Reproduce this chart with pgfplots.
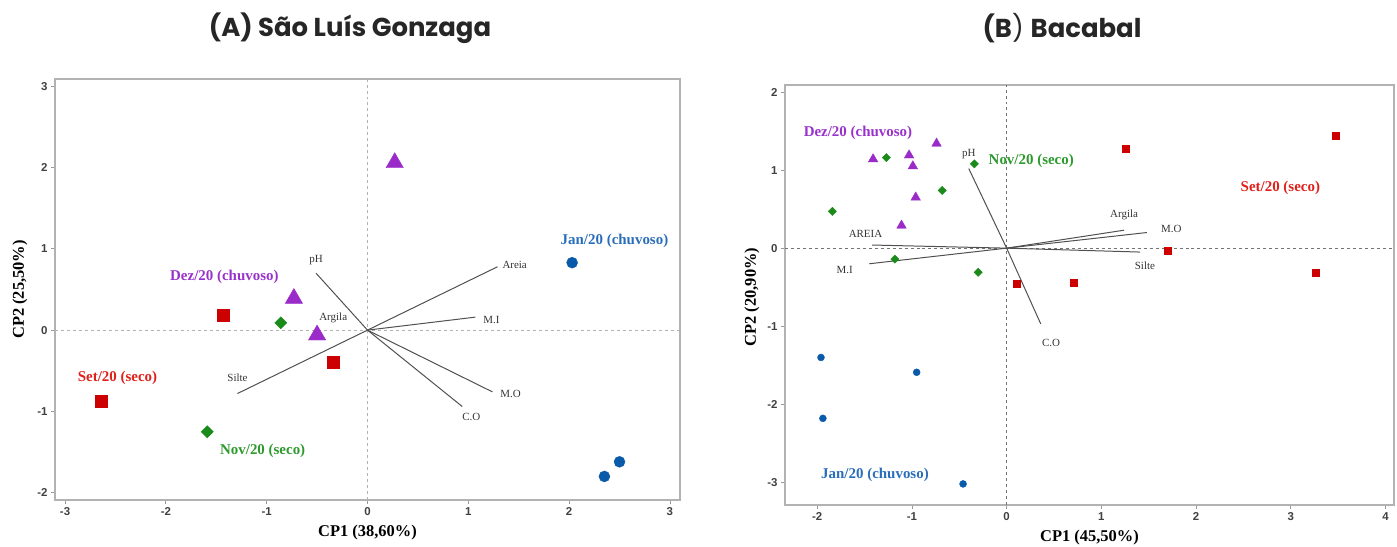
\documentclass[border=0pt]{standalone}
\usepackage{fontspec}
\setmainfont{Liberation Serif}
\setsansfont{Liberation Sans}
\newfontfamily\titlefont{Poppins}
\usepackage{pgfplots}
\pgfplotsset{compat=1.18}
\definecolor{cred}{HTML}{CC0000}
\definecolor{cpur}{HTML}{9A2BC8}
\definecolor{cgrn}{HTML}{1A8A1A}
\definecolor{cblu}{HTML}{0A5AAA}
\definecolor{tred}{HTML}{E0201B}
\definecolor{tpur}{HTML}{9932CC}
\definecolor{tgrn}{HTML}{2E9A2E}
\definecolor{tblu}{HTML}{2A6EBB}
\definecolor{vec}{HTML}{505050}
\pgfplotsset{
  pcabase/.style={
    scale only axis, clip=false,
    axis line style={draw=black!30, line width=1.2pt},
    xtick pos=left, ytick pos=left, tick align=outside,
    major tick length=4bp, tick style={black!40, line width=0.8pt},
    ticklabel style={font=\fontsize{11.5}{13}\selectfont\sffamily\bfseries, text=black!75},
    /pgf/number format/assume math mode=true,
    /pgf/number format/use comma,
  },
}
\tikzset{
  vlab/.style={font=\fontsize{11}{13}\selectfont, text=black!80},
  glab/.style={font=\fontsize{15}{17}\selectfont\bfseries},
  alab/.style={font=\fontsize{16.5}{19}\selectfont\bfseries},
}
\begin{document}
\begin{tikzpicture}
\path[use as bounding box] (0,0) rectangle (1397bp,547bp);
\node[font=\fontsize{26}{30}\selectfont\titlefont\bfseries, text=black!85] at (350bp,519bp) {(A) São Luís Gonzaga};
\node[font=\fontsize{26}{30}\selectfont\titlefont, text=black!85] at (1062bp,519bp) {\textbf{(B}) \textbf{Bacabal}};

% Panel A
\begin{axis}[pcabase, at={(55bp,47bp)}, anchor=south west, width=625bp, height=421bp,
  xmin=-3.1, xmax=3.1, ymin=-2.09, ymax=3.09,
  xtick={-3,...,3}, ytick={-2,...,3}]
\draw[black!30, dashed, line width=0.8pt] (axis cs:0,-2.09) -- (axis cs:0,3.09);
\draw[black!30, dashed, line width=0.8pt] (axis cs:-3.1,0) -- (axis cs:3.1,0);
\addplot[vec, line width=1pt] coordinates {(0,0) (-0.51,0.70)};
\addplot[vec, line width=1pt] coordinates {(0,0) (1.29,0.78)};
\addplot[vec, line width=1pt] coordinates {(0,0) (1.07,0.16)};
\addplot[vec, line width=1pt] coordinates {(0,0) (1.24,-0.76)};
\addplot[vec, line width=1pt] coordinates {(0,0) (0.94,-0.94)};
\addplot[vec, line width=1pt] coordinates {(0,0) (-1.29,-0.78)};
\addplot[only marks, mark=square*, mark size=6bp, color=cred] coordinates {(-1.43,0.18) (-0.34,-0.39) (-2.64,-0.88)};
\addplot[only marks, mark=triangle*, mark size=10bp, color=cpur] coordinates {(0.27,2.06) (-0.73,0.39) (-0.50,-0.06)};
\addplot[only marks, mark=square*, mark options={rotate=45}, mark size=4.3bp, color=cgrn] coordinates {(-0.86,0.09) (-1.59,-1.25)};
\addplot[only marks, mark=*, mark size=5.5bp, color=cblu] coordinates {(2.03,0.83) (2.50,-1.62) (2.35,-1.80)};
\node[vlab] at (axis cs:-0.51,0.86) {pH};
\node[vlab] at (axis cs:1.46,0.80) {Areia};
\node[vlab] at (axis cs:1.23,0.13) {M.I};
\node[vlab] at (axis cs:1.42,-0.78) {M.O};
\node[vlab] at (axis cs:1.03,-1.07) {C.O};
\node[vlab] at (axis cs:-1.29,-0.59) {Silte};
\node[vlab] at (axis cs:-0.34,0.15) {Argila};
\node[glab, text=tblu] at (axis cs:2.45,1.10) {Jan/20 (chuvoso)};
\node[glab, text=tpur] at (axis cs:-1.42,0.66) {Dez/20 (chuvoso)};
\node[glab, text=tred] at (axis cs:-2.48,-0.59) {Set/20 (seco)};
\node[glab, text=tgrn] at (axis cs:-1.04,-1.49) {Nov/20 (seco)};
\node[alab, yshift=-33bp] at (rel axis cs:0.5,0) {CP1 (38,60\%)};
\node[alab, xshift=-35bp, rotate=90] at (rel axis cs:0,0.5) {CP2 (25,50\%)};
\end{axis}

% Panel B
\begin{axis}[pcabase, at={(785bp,42bp)}, anchor=south west, width=609bp, height=420bp,
  xmin=-2.34, xmax=4.09, ymin=-3.29, ymax=2.09,
  xtick={-2,...,4}, ytick={-3,...,2}]
\draw[black!55, dashed, line width=0.8pt] (axis cs:0,-3.29) -- (axis cs:0,2.09);
\draw[black!55, dashed, line width=0.8pt] (axis cs:-2.34,0) -- (axis cs:4.09,0);
\addplot[vec, line width=1pt] coordinates {(0,0) (-0.40,1.02)};
\addplot[vec, line width=1pt] coordinates {(0,0) (0.36,-0.97)};
\addplot[vec, line width=1pt] coordinates {(0,0) (1.24,0.23)};
\addplot[vec, line width=1pt] coordinates {(0,0) (1.48,0.20)};
\addplot[vec, line width=1pt] coordinates {(0,0) (1.41,-0.05)};
\addplot[vec, line width=1pt] coordinates {(0,0) (-1.42,0.04)};
\addplot[vec, line width=1pt] coordinates {(0,0) (-1.45,-0.20)};
\addplot[only marks, mark=square*, mark size=3.5bp, color=cred] coordinates {(1.26,1.28) (3.47,1.44) (1.70,-0.03) (0.71,-0.44) (0.11,-0.46) (3.26,-0.31)};
\addplot[only marks, mark=triangle*, mark size=5.5bp, color=cpur] coordinates {(-1.41,1.14) (-1.03,1.19) (-0.99,1.05) (-0.74,1.34) (-0.96,0.65) (-1.11,0.29)};
\addplot[only marks, mark=square*, mark options={rotate=45}, mark size=2.9bp, color=cgrn] coordinates {(-1.27,1.16) (-0.34,1.08) (-0.68,0.74) (-1.84,0.47) (-1.18,-0.14) (-0.30,-0.31)};
\addplot[only marks, mark=*, mark size=3.5bp, color=cblu] coordinates {(-1.96,-1.40) (-0.95,-1.59) (-1.94,-2.18) (-0.46,-3.02)};
\node[vlab] at (axis cs:-0.40,1.20) {pH};
\node[vlab] at (axis cs:1.24,0.43) {Argila};
\node[vlab] at (axis cs:1.74,0.24) {M.O};
\node[vlab] at (axis cs:1.46,-0.22) {Silte};
\node[vlab] at (axis cs:-1.49,0.18) {AREIA};
\node[vlab] at (axis cs:-1.71,-0.28) {M.I};
\node[vlab] at (axis cs:0.47,-1.21) {C.O};
\node[glab, text=tpur] at (axis cs:-1.57,1.47) {Dez/20 (chuvoso)};
\node[glab, text=tgrn] at (axis cs:0.26,1.12) {Nov/20 (seco)};
\node[glab, text=tred] at (axis cs:2.89,0.77) {Set/20 (seco)};
\node[glab, text=tblu] at (axis cs:-1.39,-2.91) {Jan/20 (chuvoso)};
\node[alab, yshift=-33bp] at (rel axis cs:0.5,0) {CP1 (45,50\%)};
\node[alab, xshift=-33bp, rotate=90] at (rel axis cs:0,0.495) {CP2 (20,90\%)};
\end{axis}
\end{tikzpicture}
\end{document}
